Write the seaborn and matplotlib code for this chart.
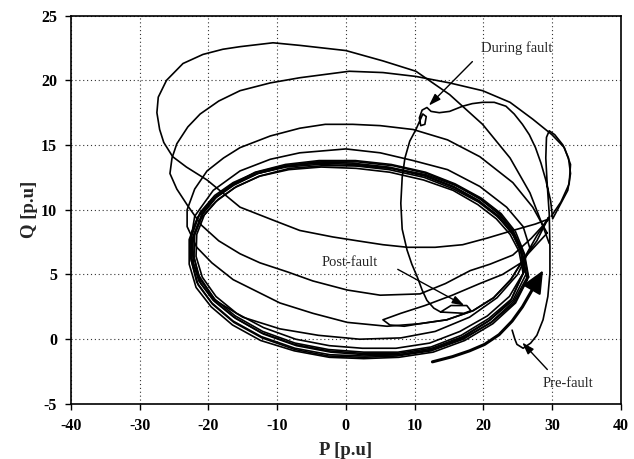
import numpy as np
import pandas as pd
import seaborn as sns
import matplotlib.pyplot as plt

# ---- data (P, Q in p.u) ----
pre_p = [12.6, 15.5, 18.0, 20.2, 22.3, 24.2, 25.7, 27.0, 27.9]
pre_q = [-1.75, -1.35, -0.9, -0.4, 0.35, 1.4, 2.5, 3.7, 4.6]

fault_p = [24.2, 24.6, 24.9, 25.8, 26.9, 27.8, 28.7, 29.4, 29.7, 29.7, 29.6, 29.3, 29.1,
           29.2, 29.6, 30.4, 31.6, 32.4, 32.7, 32.3, 31.2, 30.1, 29.8, 29.1, 28.4, 27.6,
           26.7, 25.7, 24.5, 23.3, 21.6, 19.9, 18.4, 17.0, 15.1, 13.6, 12.4, 11.8, 11.1,
           10.7, 10.9, 11.5, 11.7, 11.2, 10.7, 10.2, 9.3, 8.6, 8.2, 8.0, 8.2, 8.9, 9.6,
           10.4, 11.1, 11.8, 12.8, 13.8, 17.2, 18.2, 17.6, 15.3, 13.8]
fault_q = [0.7, 0.0, -0.4, -0.7, -0.3, 0.3, 1.5, 3.3, 5.1, 7.1, 9.7, 12.0, 14.0,
           15.6, 16.1, 15.8, 15.0, 14.0, 12.8, 11.5, 10.4, 9.3, 10.7, 12.3, 13.6, 14.8,
           15.8, 16.6, 17.4, 18.0, 18.3, 18.3, 18.2, 18.0, 17.6, 17.5, 17.6, 17.9, 17.7,
           17.1, 16.5, 16.6, 17.2, 17.4, 16.8, 16.2, 15.3, 14.0, 12.5, 10.5, 8.5, 6.9, 5.8,
           4.8, 3.8, 3.0, 2.4, 2.1, 2.0, 2.2, 2.6, 2.6, 2.1]

post_p = [29.5, 27.8, 25.5, 22.8, 19.5, 15.5, 11.5, 8.0, 5.4, 6.4, 8.5, 10.8, 14.7,
          18.5, 21.5, 24.0, 26.0, 27.8, 29.5]
post_q = [9.4, 7.6, 5.9, 5.0, 4.3, 3.4, 2.6, 2.0, 1.5, 1.1, 1.0, 1.2, 1.5,
          2.2, 3.2, 4.6, 6.3, 8.0, 9.4]

loop1_p = [29.6, 27.6, 24.3, 20.5, 17.0, 13.0, 9.0, 5.4, 1.7, -1.9, -6.7, -10.6, -15.4,
           -20.2, -23.2, -25.2, -26.5, -27.1, -27.5, -27.3, -26.1, -23.7, -20.8, -17.9,
           -15.4, -10.6, -6.7, 0.0, 5.4, 10.2, 15.1, 19.9, 23.9, 26.8, 28.7, 29.6]
loop1_q = [9.3, 8.9, 8.4, 7.8, 7.3, 7.1, 7.1, 7.3, 7.6, 7.9, 8.4, 9.2, 10.2,
           12.3, 13.3, 14.1, 15.2, 16.2, 17.5, 18.7, 20.0, 21.3, 22.0, 22.4,
           22.6, 22.9, 22.7, 22.3, 21.5, 20.7, 18.9, 16.6, 14.0, 11.3, 8.7, 7.4]

loop2_p = [29.6, 27.0, 24.3, 21.0, 18.1, 14.5, 10.8, 5.0, 0.2, -4.8, -8.5, -12.5, -15.4,
           -18.5, -21.0, -23.0, -24.6, -25.6, -25.3, -24.6, -23.0, -21.2, -18.5, -15.4,
           -11.0, -6.7, 0.5, 5.4, 10.2, 15.1, 19.9, 23.9, 27.2, 30.0, 31.8, 32.7, 32.5,
           31.3, 29.9]
loop2_q = [9.3, 7.8, 6.5, 5.8, 5.3, 4.3, 3.5, 3.4, 3.8, 4.5, 5.2, 5.9, 6.6,
           7.6, 8.8, 10.3, 11.6, 12.8, 14.0, 15.1, 16.4, 17.4, 18.4, 19.2,
           19.8, 20.2, 20.7, 20.6, 20.3, 19.8, 19.2, 18.3, 17.0, 15.8, 14.8, 13.5, 12.0,
           10.6, 9.5]

loop3_p = [29.3, 26.0, 24.0, 21.5, 18.5, 14.7, 10.8, 6.0, 0.2, -4.8, -9.6, -13.0, -16.4,
           -19.5, -21.7, -23.1, -23.1, -22.0, -20.2, -17.8, -15.4, -11.0, -6.7, -3.0,
           1.0, 5.0, 9.8, 14.8, 19.5, 24.3, 27.2, 29.3]
loop3_q = [8.2, 6.3, 4.6, 3.2, 2.2, 1.5, 1.2, 1.0, 1.3, 2.0, 2.8, 3.7, 4.6,
           5.9, 7.1, 8.7, 10.0, 11.6, 13.0, 14.0, 14.8, 15.7, 16.3, 16.6,
           16.6, 16.5, 16.2, 15.4, 14.1, 12.1, 10.2, 8.2]

loop4_p = [26.8, 25.0, 22.0, 18.0, 13.0, 8.0, 2.0, -4.0, -9.6, -15.0, -19.0, -21.5,
           -22.6, -22.0, -19.3, -15.4, -11.0, -6.7, 0.0, 5.0, 9.8, 14.8, 19.5, 23.4,
           25.8, 26.8]
loop4_q = [7.0, 5.0, 3.2, 1.7, 0.6, 0.1, 0.0, 0.3, 0.8, 1.7, 3.0, 5.0,
           7.5, 9.5, 11.5, 13.0, 13.9, 14.4, 14.7, 14.4, 13.8, 13.1, 11.8, 10.2,
           8.7, 7.0]

steady_p = [
    [26.2, 25.6, 24.3, 22.3, 19.5, 15.8, 11.5, 6.5, 1.5, -3.8, -8.5, -12.8, -16.3, -19.0, -21.0,
     -22.2, -22.4, -21.4, -19.3, -16.3, -12.3, -7.5, -2.5, 2.5, 7.5, 12.5, 17.0, 21.0, 24.3, 26.2],
    [26.6, 26.0, 24.7, 22.6, 19.7, 15.9, 11.6, 6.6, 1.4, -3.9, -8.8, -13.2, -16.8, -19.5, -21.6,
     -22.8, -22.8, -21.8, -19.6, -16.5, -12.4, -7.5, -2.4, 2.6, 7.7, 12.7, 17.3, 21.4, 24.7, 26.6],
    [25.8, 25.2, 23.9, 21.9, 19.2, 15.6, 11.3, 6.4, 1.5, -3.6, -8.3, -12.5, -15.9, -18.6, -20.6,
     -21.7, -21.8, -20.9, -18.9, -15.9, -12.0, -7.3, -2.4, 2.4, 7.3, 12.2, 16.6, 20.6, 23.8, 25.8],
    [26.4, 25.8, 24.4, 22.3, 19.4, 15.7, 11.3, 6.2, 1.0, -4.2, -8.9, -13.0, -16.4, -19.1, -21.2,
     -22.5, -22.6, -21.7, -19.5, -16.4, -12.3, -7.4, -2.3, 2.7, 7.7, 12.6, 17.2, 21.2, 24.5, 26.4],
    [26.0, 25.5, 24.2, 22.2, 19.5, 15.9, 11.7, 6.8, 1.8, -3.4, -8.2, -12.6, -16.2, -19.0, -21.1,
     -22.3, -22.2, -21.1, -19.0, -16.0, -12.0, -7.2, -2.2, 2.8, 7.7, 12.5, 16.9, 20.8, 24.0, 26.0],
    [26.5, 25.9, 24.5, 22.4, 19.6, 16.0, 11.8, 6.9, 1.7, -3.5, -8.4, -12.9, -16.6, -19.4, -21.4,
     -22.5, -22.5, -21.5, -19.4, -16.3, -12.2, -7.4, -2.5, 2.5, 7.4, 12.4, 17.1, 21.1, 24.4, 26.5],
    [25.9, 25.4, 24.1, 22.0, 19.3, 15.7, 11.4, 6.3, 1.2, -4.0, -8.7, -12.9, -16.2, -18.8, -20.8,
     -22.0, -22.1, -21.2, -19.1, -16.1, -12.1, -7.4, -2.5, 2.6, 7.6, 12.4, 16.8, 20.8, 24.1, 25.9],
]
steady_q = [
    [5.0, 6.7, 8.2, 9.5, 10.6, 11.7, 12.6, 13.2, 13.5, 13.6, 13.4, 12.8, 11.9, 10.9, 9.6,
     8.0, 6.2, 4.5, 3.0, 1.7, 0.5, -0.4, -0.9, -1.1, -1.1, -0.7, 0.2, 1.5, 3.0, 5.0],
    [4.8, 6.6, 8.3, 9.7, 10.9, 12.0, 12.9, 13.5, 13.8, 13.8, 13.5, 12.9, 11.9, 10.8, 9.4,
     7.7, 5.8, 4.0, 2.5, 1.1, -0.1, -0.9, -1.4, -1.5, -1.4, -1.0, -0.1, 1.2, 2.8, 4.8],
    [5.1, 6.8, 8.1, 9.3, 10.4, 11.5, 12.3, 12.9, 13.2, 13.3, 13.1, 12.6, 11.8, 10.8, 9.6,
     8.1, 6.4, 4.8, 3.3, 2.0, 0.9, 0.0, -0.5, -0.7, -0.7, -0.3, 0.6, 1.8, 3.3, 5.1],
    [4.6, 6.4, 8.0, 9.4, 10.7, 11.8, 12.7, 13.3, 13.6, 13.7, 13.4, 12.9, 12.1, 11.1, 9.8,
     8.2, 6.3, 4.4, 2.8, 1.4, 0.2, -0.7, -1.2, -1.3, -1.2, -0.8, 0.1, 1.3, 2.8, 4.6],
    [5.3, 7.0, 8.5, 9.8, 10.9, 11.9, 12.7, 13.2, 13.4, 13.4, 13.2, 12.6, 11.7, 10.6, 9.3,
     7.7, 5.9, 4.3, 2.9, 1.6, 0.4, -0.5, -1.0, -1.2, -1.2, -0.8, 0.1, 1.4, 3.0, 5.3],
    [4.9, 6.6, 8.2, 9.6, 10.8, 11.9, 12.8, 13.4, 13.7, 13.7, 13.4, 12.8, 11.9, 10.8, 9.5,
     7.9, 6.1, 4.2, 2.7, 1.3, 0.1, -0.8, -1.3, -1.4, -1.3, -0.9, 0.0, 1.3, 2.9, 4.9],
    [5.2, 6.9, 8.3, 9.5, 10.6, 11.6, 12.5, 13.1, 13.4, 13.5, 13.3, 12.8, 12.0, 11.0, 9.7,
     8.1, 6.3, 4.6, 3.1, 1.8, 0.6, -0.3, -0.8, -1.0, -1.0, -0.6, 0.3, 1.6, 3.1, 5.2],
]

x_ticks = [-40, -30, -20, -10, 0, 10, 20, 30, 40]
y_ticks = [-5, 0, 5, 10, 15, 20, 25]


def build_frame():
    parts = [("fault", fault_p, fault_q), ("post", post_p, post_q),
             ("loop1", loop1_p, loop1_q), ("loop2", loop2_p, loop2_q),
             ("loop3", loop3_p, loop3_q), ("loop4", loop4_p, loop4_q)]
    for i, (sp, sq) in enumerate(zip(steady_p, steady_q)):
        parts.append((f"steady{i}", sp, sq))
    frames = []
    for name, p, q in parts:
        frames.append(pd.DataFrame({"P": p, "Q": q, "seg": name}))
    return pd.concat(frames, ignore_index=True)


sns.set_theme(style="ticks")
plt.rcParams["font.family"] = ["Liberation Serif", "DejaVu Serif"]
plt.rcParams["axes.unicode_minus"] = False

fig = plt.figure(figsize=(6.34, 4.59), dpi=100)
ax = fig.add_axes([0.112, 0.12, 0.867, 0.846])

df = build_frame()
sns.lineplot(data=df, x="P", y="Q", units="seg", estimator=None, sort=False,
             color="black", lw=1.2, ax=ax)
pre = pd.DataFrame({"P": pre_p, "Q": pre_q})
sns.lineplot(data=pre, x="P", y="Q", sort=False, estimator=None,
             color="black", lw=2.2, ax=ax)

# thick arrow at the end of the pre-fault arc
ax.annotate("", xy=(28.9, 5.5), xytext=(27.6, 4.3),
            arrowprops=dict(arrowstyle="-|>,head_length=1.0,head_width=0.45",
                            color="black", lw=1.5, mutation_scale=14))

arrow = dict(arrowstyle="-|>,head_length=0.6,head_width=0.2", color="black",
             lw=1.0, mutation_scale=12)
ax.annotate("", xy=(11.8, 17.9), xytext=(18.7, 21.6), arrowprops=arrow)
ax.annotate("", xy=(17.6, 2.5), xytext=(7.2, 5.5), arrowprops=arrow)
ax.annotate("", xy=(25.4, -0.1), xytext=(29.6, -2.5), arrowprops=arrow)

ax.text(24.8, 22.5, "During fault", fontsize=10.5, ha="center", va="center")
ax.text(0.6, 5.9, "Post-fault", fontsize=10.5, ha="center", va="center")
ax.text(32.3, -3.4, "Pre-fault", fontsize=10.5, ha="center", va="center")

ax.set_xlim(-40, 40)
ax.set_ylim(-5, 25)
ax.set_xticks(x_ticks)
ax.set_yticks(y_ticks)
ax.grid(True, linestyle=(0, (1, 2.5)), color="0.2", lw=0.8)
for s in ax.spines.values():
    s.set_color("black")
    s.set_linewidth(1.2)
ax.tick_params(direction="out", length=4, width=1, colors="black", labelsize=11.5, pad=6)
for lab in ax.get_xticklabels() + ax.get_yticklabels():
    lab.set_fontweight("bold")
ax.set_xlabel("P [p.u]", fontsize=13.5, fontweight="bold", labelpad=6)
ax.set_ylabel("Q [p.u]", fontsize=13.5, fontweight="bold", labelpad=2)

fig.savefig("out.png", dpi=100)
